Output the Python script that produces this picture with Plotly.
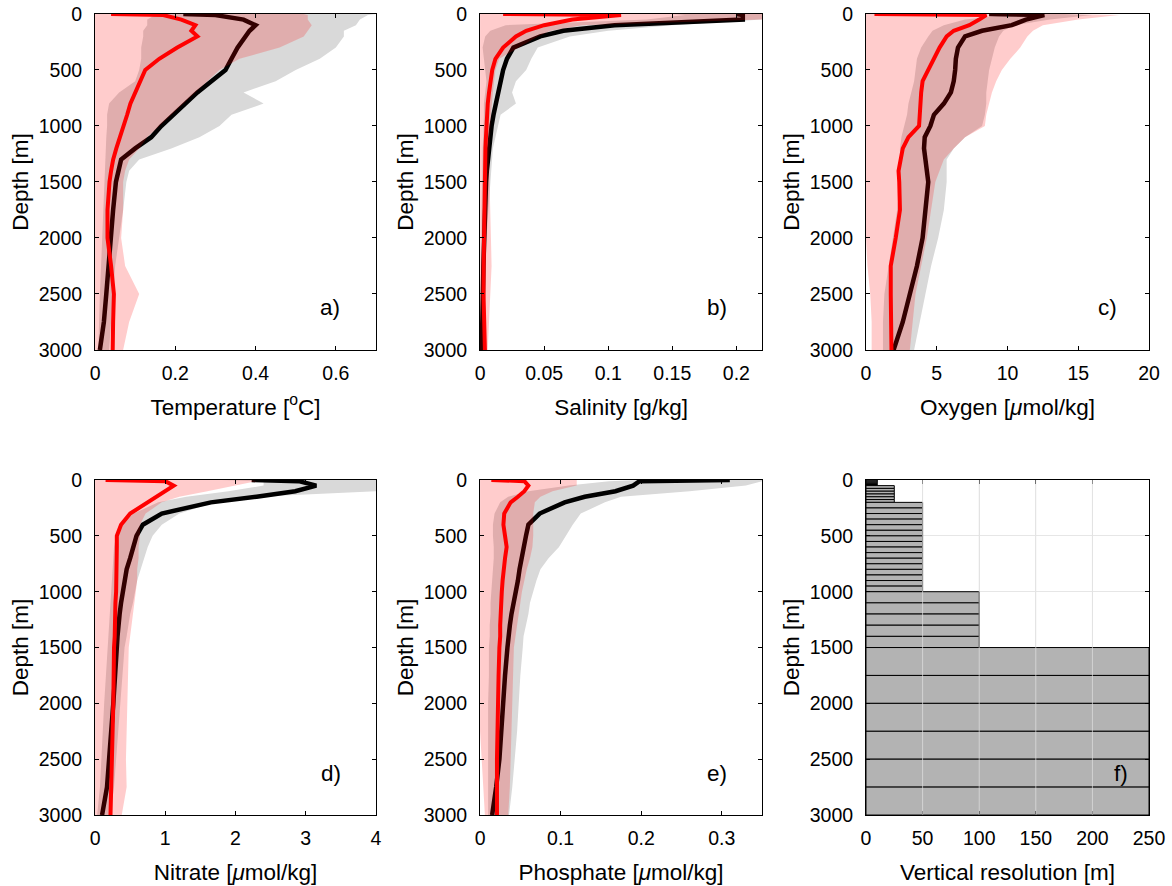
import plotly.graph_objects as go

# ---------------- data ----------------
depth = [0, 10, 50, 100, 150, 200, 300, 400, 500, 600, 700, 800, 900, 1000,
         1100, 1200, 1300, 1400, 1500, 1750, 2000, 2250, 2500, 2750, 3000]

# a) Temperature
temp_k = [.22, .30, .37, .40, .385, .375, .355, .34, .325, .29, .255, .225, .195, .165,
          .14, .10, .065, .058, .052, .045, .040, .035, .028, .022, .012]
temp_k_lo = [.16, .15, .13, .13, .12, .12, .115, .115, .11, .10, .06, .035, .03, .03,
             .028, .027, .026, .025, .024, .02, .018, .015, .012, .01, .008]
temp_k_hi = [.70, .68, .66, .65, .62, .62, .60, .56, .50, .45, .37, .42, .34, .31,
             .26, .19, .11, .085, .078, .07, .06, .05, .045, .04, .035]
temp_r = [.04, .17, .215, .25, .24, .255, .205, .16, .125, .113, .10, .088, .08, .072,
          .062, .053, .045, .04, .036, .031, .031, .04, .047, .045, .044]
temp_r_lo = [0, 0, 0, 0, 0, 0, 0, 0, 0, 0, 0, 0, 0, 0, 0, 0, 0, 0, 0, 0, 0, 0, 0, 0, 0]
temp_r_hi = [.52, .53, .53, .54, .53, .52, .46, .36, .31, .28, .25, .22, .19, .16,
             .13, .11, .085, .075, .07, .07, .065, .075, .11, .085, .07]

# b) Salinity
sal_k = [.20, .205, .205, .105, .065, .047, .026, .021, .018, .016, .014, .012, .0105, .009,
         .008, .0068, .006, .0053, .0047, .0038, .003, .0026, .0022, .0018, .0013]
sal_k_lo = [.15, .16, .13, .02, .008, .004, .002, .003, .004, .005, .004, .003, .003, .003,
            .0025, .002, .002, .0018, .0016, .0012, .001, .0008, .0006, .0005, .0003]
sal_k_hi = [.22, .22, .22, .15, .10, .07, .045, .04, .036, .028, .025, .028, .016, .014,
            .012, .01, .009, .0085, .008, .0065, .005, .0045, .004, .0035, .003]
sal_r = [.018, .11, .072, .05, .036, .028, .018, .012, .0095, .008, .007, .006, .0053, .005,
         .0046, .0042, .004, .0038, .0036, .0033, .003, .0028, .0027, .003, .0038]
sal_r_lo = [0, 0, 0, 0, 0, 0, 0, 0, 0, 0, 0, 0, 0, 0, 0, 0, 0, 0, 0, 0, 0, 0, 0, 0, 0]
sal_r_hi = [.22, .22, .22, .08, .055, .045, .03, .015, .012, .011, .01, .009, .0085, .008,
            .0075, .0075, .007, .007, .0075, .008, .0085, .009, .0085, .007, .006]

# c) Oxygen
oxy_k = [8.7, 12.6, 11.3, 10.3, 8.2, 7.0, 6.5, 6.35, 6.3, 6.2, 6.0, 5.5, 4.8, 4.55,
         4.15, 4.1, 4.2, 4.3, 4.4, 4.2, 4.0, 3.6, 3.1, 2.6, 1.95]
oxy_k_lo = [8.5, 10, 7, 5.5, 4.7, 4.4, 3.9, 3.6, 3.5, 3.4, 3.2, 3.0, 2.9, 2.7,
            2.5, 2.4, 2.4, 2.4, 2.4, 2.2, 1.9, 1.6, 1.3, 1.2, 1.2]
oxy_k_hi = [14, 16, 13, 10.5, 9.7, 9.4, 9.1, 8.9, 8.7, 8.6, 8.5, 8.5, 8.4, 8.2,
            7.0, 6.2, 5.7, 5.7, 5.7, 5.5, 5.1, 4.6, 4.2, 3.8, 3.4]
oxy_r = [0.6, 8.5, 8.0, 7.3, 6.2, 5.7, 5.2, 4.8, 4.4, 4.0, 3.9, 3.85, 3.8, 3.75,
         3.0, 2.6, 2.45, 2.3, 2.35, 2.4, 2.1, 1.75, 1.75, 1.8, 1.8]
oxy_r_lo = [0, 0, 0, 0, 0, 0, 0, 0, 0, 0, 0, 0, 0, 0, 0, 0, 0, 0, 0, 0, 0, 0.1, 0.3, 0.4, 0.4]
oxy_r_hi = [14, 17.9, 15, 12.5, 11.8, 11.4, 10.9, 10.2, 9.6, 9.2, 8.9, 8.7, 8.5, 8.4,
            7.0, 6.2, 5.5, 5.2, 4.9, 4.6, 4.3, 3.9, 3.5, 3.3, 3.1]

# d) Nitrate
nit_k = [2.23, 2.9, 3.15, 2.85, 2.3, 1.65, .95, .68, .59, .55, .5, .45, .42, .39,
         .37, .35, .33, .32, .31, .29, .26, .23, .2, .17, .10]
nit_k_lo = [1.8, 2.4, 2.4, 1.9, 1.3, .9, .55, .35, .3, .27, .26, .25, .24, .23,
            .22, .2, .19, .18, .17, .15, .13, .11, .09, .07, .03]
nit_k_hi = [4, 4, 4, 4, 2.3, 1.7, 1.2, .95, .82, .75, .7, .65, .6, .57,
            .54, .5, .47, .45, .42, .39, .36, .33, .3, .27, .22]
nit_r = [.15, 1.0, 1.12, 1.0, .87, .74, .5, .37, .31, .31, .31, .31, .3, .3,
         .29, .29, .28, .28, .27, .27, .26, .25, .24, .23, .22]
nit_r_lo = [0, 0, 0, 0, 0, 0, 0, 0, 0, 0, 0, 0, 0, 0, 0, 0, 0, 0, 0, 0, 0, 0, 0, 0, 0]
nit_r_hi = [2.2, 2.3, 2.0, 1.6, 1.2, .95, .72, .64, .64, .62, .62, .6, .6, .58,
            .55, .53, .52, .5, .48, .47, .46, .45, .44, .45, .38]

# e) Phosphate
pho_k = [.31, .198, .19, .168, .13, .105, .074, .06, .057, .054, .052, .049, .047, .044,
         .041, .039, .037, .035, .034, .031, .029, .027, .024, .02, .015]
pho_k_lo = [.2, .16, .11, .06, .035, .025, .018, .016, .016, .017, .017, .016, .015, .014,
            .013, .013, .012, .012, .011, .011, .01, .01, .01, .01, .01]
pho_k_hi = [.35, .35, .33, .26, .175, .155, .125, .115, .106, .098, .085, .075, .07, .066,
            .062, .06, .057, .054, .053, .05, .048, .046, .043, .04, .036]
pho_r = [.014, .055, .06, .055, .047, .038, .03, .029, .031, .033, .031, .029, .028, .027,
         .026, .025, .025, .025, .024, .023, .022, .021, .021, .021, .021]
pho_r_lo = [0, 0, 0, 0, 0, 0, 0, 0, 0, 0, 0, 0, 0, 0, 0, 0, 0, 0, 0, 0, 0, 0, .002, .004, .006]
pho_r_hi = [.12, .12, .12, .09, .075, .068, .066, .066, .066, .065, .062, .058, .055, .052,
            .05, .048, .046, .044, .042, .041, .04, .039, .038, .037, .035]

# f) Vertical resolution (layer tops and thickness)
layer_top = [0, 10, 20, 30, 40, 50, 75, 100, 125, 150, 175,
             200, 250, 300, 350, 400, 450, 500, 550, 600, 650, 700, 750, 800, 850, 900, 950,
             1000, 1100, 1200, 1300, 1400,
             1500, 1750, 2000, 2250, 2500, 2750]
layer_res = [10, 10, 10, 10, 10, 25, 25, 25, 25, 25, 25,
             50, 50, 50, 50, 50, 50, 50, 50, 50, 50, 50, 50, 50, 50, 50, 50,
             100, 100, 100, 100, 100,
             250, 250, 250, 250, 250, 250]

x_titles = ["Temperature [<sup>o</sup>C]", "Salinity [g/kg]", "Oxygen [<i>μ</i>mol/kg]",
            "Nitrate [<i>μ</i>mol/kg]", "Phosphate [<i>μ</i>mol/kg]", "Vertical resolution [m]"]
panel_labels = ["a)", "b)", "c)", "d)", "e)", "f)"]
x_ranges = [[0, 0.7], [0, 0.22], [0, 20], [0, 4], [0, 0.35], [0, 250]]
x_tickvals = [[0, 0.2, 0.4, 0.6], [0, 0.05, 0.1, 0.15, 0.2], [0, 5, 10, 15, 20],
              [0, 1, 2, 3, 4], [0, 0.1, 0.2, 0.3], [0, 50, 100, 150, 200, 250]]
x_ticktext = [["0", "0.2", "0.4", "0.6"], ["0", "0.05", "0.1", "0.15", "0.2"],
              ["0", "5", "10", "15", "20"], ["0", "1", "2", "3", "4"],
              ["0", "0.1", "0.2", "0.3"], ["0", "50", "100", "150", "200", "250"]]
y_tickvals = [0, 500, 1000, 1500, 2000, 2500, 3000]

panels = [
    (temp_k, temp_k_lo, temp_k_hi, temp_r, temp_r_lo, temp_r_hi),
    (sal_k, sal_k_lo, sal_k_hi, sal_r, sal_r_lo, sal_r_hi),
    (oxy_k, oxy_k_lo, oxy_k_hi, oxy_r, oxy_r_lo, oxy_r_hi),
    (nit_k, nit_k_lo, nit_k_hi, nit_r, nit_r_lo, nit_r_hi),
    (pho_k, pho_k_lo, pho_k_hi, pho_r, pho_r_lo, pho_r_hi),
]

# ---------------- figure ----------------
FONT = "Liberation Sans, Arial, Helvetica, sans-serif"
TICK_SIZE = 19.5
TITLE_SIZE = 22.5
col_dom = [[0.0811, 0.3208], [0.4096, 0.6502], [0.7389, 0.9804]]
row_dom = [[0.605, 0.9842], [0.0801, 0.4582]]

fig = go.Figure()

for i, (mk, klo, khi, mr, rlo, rhi) in enumerate(panels):
    xa = "x" if i == 0 else f"x{i+1}"
    ya = "y" if i == 0 else f"y{i+1}"
    fig.add_trace(go.Scatter(x=klo + khi[::-1], y=depth + depth[::-1], fill="toself",
                             fillcolor="#d9d9d9", line=dict(width=0), mode="lines",
                             hoverinfo="skip", showlegend=False, xaxis=xa, yaxis=ya))
    fig.add_trace(go.Scatter(x=mk, y=depth, mode="lines", line=dict(color="black", width=4.5),
                             showlegend=False, xaxis=xa, yaxis=ya))
    fig.add_trace(go.Scatter(x=rlo + rhi[::-1], y=depth + depth[::-1], fill="toself",
                             fillcolor="rgba(255,0,0,0.2)", line=dict(width=0), mode="lines",
                             hoverinfo="skip", showlegend=False, xaxis=xa, yaxis=ya))
    fig.add_trace(go.Scatter(x=mr, y=depth, mode="lines", line=dict(color="#ff0000", width=4),
                             showlegend=False, xaxis=xa, yaxis=ya))

# panel f bars
centers = [t + r / 2 for t, r in zip(layer_top, layer_res)]
fig.add_trace(go.Bar(x=layer_res, y=centers, base=0, width=layer_res, orientation="h",
                     marker=dict(color="#b3b3b3", line=dict(color="black", width=1)),
                     showlegend=False, xaxis="x6", yaxis="y6"))

layout = dict(width=1172, height=886, margin=dict(l=0, r=0, t=0, b=0),
              paper_bgcolor="white", plot_bgcolor="white",
              font=dict(family=FONT, size=TICK_SIZE, color="black"), showlegend=False,
              annotations=[], shapes=[])

for i in range(6):
    r, c = divmod(i, 3)
    xk = "xaxis" if i == 0 else f"xaxis{i+1}"
    yk = "yaxis" if i == 0 else f"yaxis{i+1}"
    ya = "y" if i == 0 else f"y{i+1}"
    xa = "x" if i == 0 else f"x{i+1}"
    grid = (i == 5)
    layout[xk] = dict(domain=col_dom[c], anchor=ya, range=x_ranges[i],
                      tickvals=x_tickvals[i], ticktext=x_ticktext[i],
                      showline=True, mirror="ticks", linecolor="black", linewidth=1,
                      ticks="inside", ticklen=4, tickcolor="black",
                      showgrid=grid, gridcolor="#e6e6e6", gridwidth=1, zeroline=False,
                      layer="above traces", ticklabelstandoff=6,
                      title=dict(text=x_titles[i], font=dict(size=TITLE_SIZE), standoff=15),
                      tickfont=dict(size=TICK_SIZE), automargin=False)
    layout[yk] = dict(domain=row_dom[r], anchor=xa, range=[3000, 0],
                      tickvals=y_tickvals,
                      showline=True, mirror="ticks", linecolor="black", linewidth=1,
                      ticks="inside", ticklen=4, tickcolor="black",
                      showgrid=grid, gridcolor="#e6e6e6", gridwidth=1, zeroline=False,
                      layer="above traces", ticklabelstandoff=8,
                      title=dict(text="Depth [m]", font=dict(size=TITLE_SIZE), standoff=3),
                      tickfont=dict(size=TICK_SIZE), automargin=False)
    lx = [0.836, 0.84, 0.855, 0.84, 0.84, 0.9][i]
    layout["annotations"].append(dict(text=panel_labels[i], xref=f"{xa} domain", yref=f"{ya} domain",
                                      x=lx, y=0.125, showarrow=False, font=dict(size=TITLE_SIZE),
                                      xanchor="center", yanchor="middle"))

# vertical grid of panel f drawn over the bars (at the tick positions)
for xv in x_tickvals[5][1:-1]:
    layout["shapes"].append(dict(type="line", xref="x6", yref="y6 domain", x0=xv, x1=xv,
                                 y0=0, y1=1, layer="above",
                                 line=dict(color="rgba(225,225,225,0.7)", width=1)))

fig.update_layout(**layout)
fig.write_html("out.html")
